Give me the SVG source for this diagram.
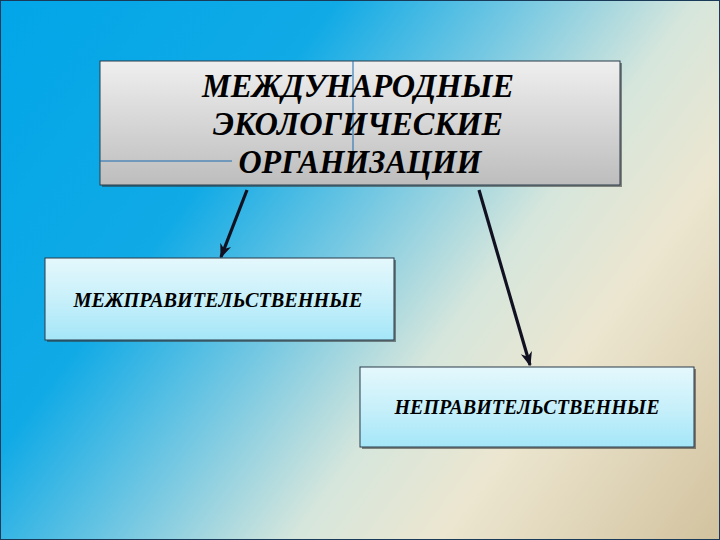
<svg xmlns="http://www.w3.org/2000/svg" width="720" height="540" viewBox="0 0 720 540">
<defs>
<linearGradient id="bg" x1="0" y1="0" x2="720" y2="540" gradientUnits="userSpaceOnUse">
<stop offset="0" stop-color="#02a6e8"/>
<stop offset="0.3" stop-color="#10aae6"/>
<stop offset="0.47" stop-color="#78c9e2"/>
<stop offset="0.62" stop-color="#d6e6dc"/>
<stop offset="0.75" stop-color="#ece6d0"/>
<stop offset="1" stop-color="#d2c29e"/>
</linearGradient>
<linearGradient id="gray" x1="0" y1="0" x2="0" y2="1">
<stop offset="0" stop-color="#efefef"/>
<stop offset="1" stop-color="#bdbdbd"/>
</linearGradient>
<linearGradient id="cyan" x1="0" y1="0" x2="0" y2="1">
<stop offset="0" stop-color="#e4f8fc"/>
<stop offset="0.5" stop-color="#c8f0fa"/>
<stop offset="1" stop-color="#a4e6f8"/>
</linearGradient>
<marker id="ah" viewBox="0 0 10 10" refX="9" refY="5" markerWidth="4.5" markerHeight="4.5" orient="auto" markerUnits="strokeWidth">
<path d="M0,1 L10,5 L0,9 L3,5 Z" fill="#111122"/>
</marker>
</defs>
<style>
.title{font-family:"Liberation Serif","Times New Roman",serif;font-weight:bold;font-style:italic;font-size:34px;fill:#000;text-anchor:middle}
.lbl{font-family:"Liberation Serif","Times New Roman",serif;font-weight:bold;font-style:italic;font-size:21px;fill:#000;text-anchor:middle}
.shadow{fill:#333;opacity:0.55}
.box{stroke:#2a3a4a;stroke-width:1}
.conn{stroke:#111122;stroke-width:3.2;fill:none;marker-end:url(#ah)}
</style>
<rect x="0" y="0" width="720" height="540" fill="url(#bg)"/>
<rect x="0.5" y="0.5" width="719" height="539" fill="none" stroke="#1a3a5a" stroke-width="1"/>

<g id="top">
<rect class="shadow" x="102" y="63" width="520" height="124"/>
<rect class="box" x="100" y="61" width="520" height="124" fill="url(#gray)"/>
<line x1="353" y1="61" x2="353" y2="162" stroke="#1a6ab0" stroke-width="1"/>
<line x1="100" y1="161" x2="232" y2="161" stroke="#1a6ab0" stroke-width="1"/>
<text class="title" x="358" y="97" textLength="312" lengthAdjust="spacingAndGlyphs">МЕЖДУНАРОДНЫЕ</text>
<text class="title" x="358" y="135" textLength="290" lengthAdjust="spacingAndGlyphs">ЭКОЛОГИЧЕСКИЕ</text>
<text class="title" x="360" y="173" textLength="243" lengthAdjust="spacingAndGlyphs">ОРГАНИЗАЦИИ</text>
</g>

<g id="left">
<rect class="shadow" x="47" y="260" width="349" height="82"/>
<rect class="box" x="45" y="258" width="349" height="82" fill="url(#cyan)" stroke="#5a8aa0"/>
<text class="lbl" x="218" y="307" textLength="289" lengthAdjust="spacingAndGlyphs">МЕЖПРАВИТЕЛЬСТВЕННЫЕ</text>
</g>

<g id="right">
<rect class="shadow" x="362" y="369" width="334" height="80"/>
<rect class="box" x="360" y="367" width="334" height="80" fill="url(#cyan)" stroke="#5a8aa0"/>
<text class="lbl" x="527" y="414" textLength="265" lengthAdjust="spacingAndGlyphs">НЕПРАВИТЕЛЬСТВЕННЫЕ</text>
</g>

<g id="connectors">
<line class="conn" x1="247" y1="190" x2="221" y2="257"/>
<line class="conn" x1="479" y1="190" x2="530" y2="365"/>
</g>
</svg>
